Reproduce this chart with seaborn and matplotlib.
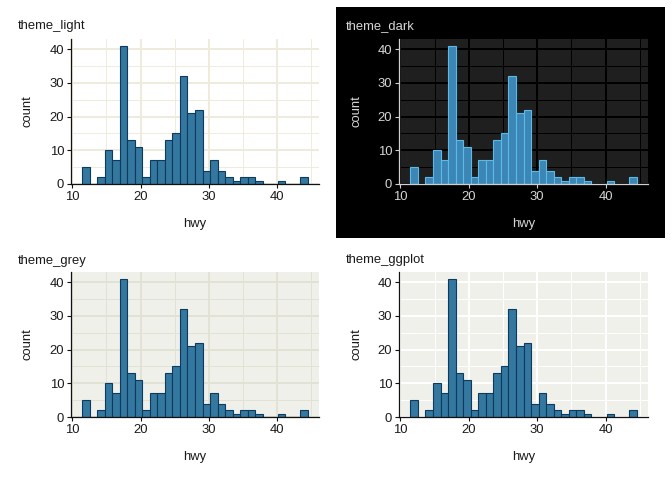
import matplotlib
matplotlib.use("Agg")
import matplotlib.pyplot as plt
import matplotlib.patches as mpatches
from matplotlib.ticker import MultipleLocator
import numpy as np
import seaborn as sns

# data: mpg$hwy, 30 bins (centers and counts)
hwy_centers = [12.0, 13.1, 14.2, 15.3, 16.4, 17.5, 18.6, 19.7, 20.8, 21.9,
               23.0, 24.1, 25.2, 26.3, 27.4, 28.6, 29.7, 30.8, 31.9, 33.0,
               34.1, 35.2, 36.3, 37.4, 38.5, 39.6, 40.7, 41.8, 42.9, 44.0]
hwy_counts = [5, 0, 2, 10, 7, 41, 13, 11, 2, 7,
              7, 13, 15, 32, 21, 22, 4, 7, 4, 2,
              1, 2, 2, 1, 0, 0, 1, 0, 0, 2]
panel_titles = ["theme_light", "theme_dark", "theme_grey", "theme_ggplot"]

sns.set_theme(style="white")
plt.rcParams["font.family"] = ["Liberation Sans", "DejaVu Sans"]
FS = 9.4

W, H = 672, 480

# theme styles
styles = {
    "theme_light": dict(bg="white", grid="#efebdc", text="#1a1a1a", axis="#111111",
                        fill="#34789f", edge="#0e3a5d"),
    "theme_dark": dict(bg="#1f1f1f", grid="#000000", text="#d6d6d6", axis="#d0d0d0",
                       fill="#3c86b6", edge="#5bbbe8"),
    "theme_grey": dict(bg="#f0f0eb", grid="#e2e2d4", text="#1a1a1a", axis="#111111",
                       fill="#34789f", edge="#0e3a5d"),
    "theme_ggplot": dict(bg="#f0f0eb", grid="#ffffff", text="#1a1a1a", axis="#111111",
                         fill="#34789f", edge="#0e3a5d"),
}
# panel boxes in pixels: left, top, right, bottom
boxes = {
    "theme_light": (71, 39, 319, 184),
    "theme_dark": (399, 39, 648, 184),
    "theme_grey": (71, 272, 319, 417),
    "theme_ggplot": (399, 272, 648, 417),
}
# title positions (x, y) in pixels, x of the "count" label
title_pos = {
    "theme_light": (18, 26, 27),
    "theme_dark": (346, 26.5, 356),
    "theme_grey": (18, 261, 27),
    "theme_ggplot": (346, 260.5, 356),
}

fig = plt.figure(figsize=(W / 100, H / 100), dpi=100)
fig.patch.set_facecolor("white")

# black plot background for the dark theme
fig.add_artist(mpatches.Rectangle((336 / W, 1 - 238 / H), (665 - 336) / W, (238 - 7) / H,
                                  transform=fig.transFigure, facecolor="black",
                                  edgecolor="none", zorder=0))

bw = (max(hwy_centers) - min(hwy_centers)) / (len(hwy_centers) - 1)
lo = min(hwy_centers) - bw / 2
hi = max(hwy_centers) + bw / 2

for name in panel_titles:
    st = styles[name]
    l, t, r, b = boxes[name]
    tx, ty, cxl = title_pos[name]
    ax = fig.add_axes([l / W, 1 - b / H, (r - l) / W, (b - t) / H])
    ax.set_facecolor(st["bg"])

    sns.histplot(x=hwy_centers, weights=hwy_counts, bins=len(hwy_centers),
                 binrange=(lo, hi), color=st["fill"], edgecolor=st["edge"],
                 linewidth=0.8, alpha=1, ax=ax, zorder=3)

    span = hi - lo
    ax.set_xlim(lo - 0.05 * span, hi + 0.05 * span)
    ax.set_ylim(0, max(hwy_counts) * 1.05)

    ax.xaxis.set_major_locator(MultipleLocator(10))
    ax.xaxis.set_minor_locator(MultipleLocator(5))
    ax.yaxis.set_major_locator(MultipleLocator(10))
    ax.yaxis.set_minor_locator(MultipleLocator(5))
    ax.grid(True, which="major", color=st["grid"], linewidth=1.4, zorder=0)
    ax.grid(True, which="minor", color=st["grid"], linewidth=0.7, zorder=0)
    ax.set_axisbelow(True)

    for side in ["top", "right"]:
        ax.spines[side].set_visible(False)
    for side in ["left", "bottom"]:
        ax.spines[side].set_color(st["axis"])
        ax.spines[side].set_linewidth(0.9)
        ax.spines[side].set_zorder(4)

    ax.tick_params(which="major", direction="out", length=3, width=0.8,
                   color=st["axis"], labelcolor=st["text"], labelsize=FS, pad=2,
                   bottom=True, left=True)
    ax.tick_params(which="minor", length=0)

    ax.set_xlabel("")
    ax.set_ylabel("")
    # axis titles and panel title placed in figure pixels
    cx = (l + r) / 2
    fig.text(cx / W, 1 - (b + 40) / H, "hwy", ha="center", va="center",
             fontsize=FS, color=st["text"])
    fig.text(cxl / W, 1 - (t + b) / 2 / H, "count",
             rotation=90, ha="center", va="center", fontsize=FS, color=st["text"])
    fig.text(tx / W, 1 - ty / H, name,
             ha="left", va="center", fontsize=FS, color=st["text"])

fig.savefig("out.png", dpi=100, facecolor=fig.get_facecolor())
